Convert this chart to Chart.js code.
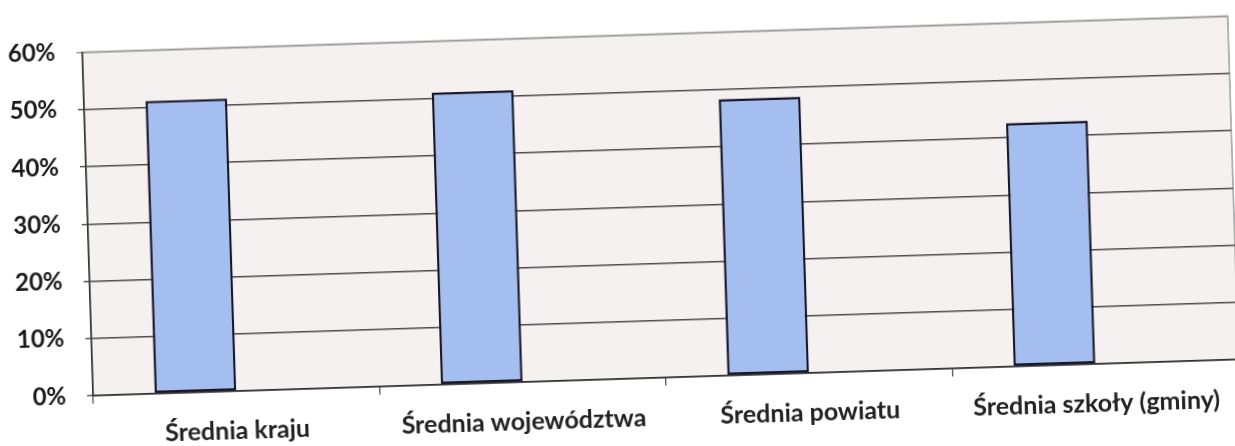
<!DOCTYPE html>
<html>
<head>
<meta charset="utf-8">
<script src="https://cdn.jsdelivr.net/npm/chart.js@4.4.1/dist/chart.umd.min.js"></script>
<style>
  html, body { margin: 0; padding: 0; background: #ffffff; overflow: hidden; }
  #wrap {
    position: absolute; left: 0; top: 0; width: 1235px; height: 446px;
    transform: rotate(-1.81deg); transform-origin: 617.5px 223px;
  }
  canvas { display: block; }
</style>
</head>
<body>
<div id="wrap"><canvas id="c" width="1235" height="446"></canvas></div>
<script>
const categories = ["Średnia kraju", "Średnia województwa", "Średnia powiatu", "Średnia szkoły (gminy)"];
const seriesValues = [51.1, 51.0, 48.3, 42.5];
const emptySeries = [null, null, null, null];
const yTickValues = [0, 10, 20, 30, 40, 50, 60];
const yTickLabels = ["0%", "10%", "20%", "30%", "40%", "50%", "60%"];

const plotBg = {
  id: 'plotBg',
  beforeDraw(chart) {
    const { ctx, chartArea: a } = chart;
    ctx.save();
    ctx.fillStyle = '#f4f1f0';
    ctx.fillRect(a.left, a.top, a.right - a.left, a.bottom - a.top);
    ctx.strokeStyle = '#9a9a9a';
    ctx.lineWidth = 1.5;
    ctx.strokeRect(a.left, a.top, a.right - a.left, a.bottom - a.top);
    ctx.restore();
  }
};

new Chart(document.getElementById('c'), {
  type: 'bar',
  data: {
    labels: categories,
    datasets: [
      {
        data: seriesValues,
        backgroundColor: '#a4bef0',
        borderColor: '#17172a',
        borderWidth: 2.5,
        borderSkipped: false,
        categoryPercentage: 2 / 3.5,
        barPercentage: 1
      },
      {
        data: emptySeries,
        backgroundColor: '#c0504d',
        categoryPercentage: 2 / 3.5,
        barPercentage: 1
      }
    ]
  },
  options: {
    responsive: false,
    animation: false,
    devicePixelRatio: 1,
    layout: { padding: { left: 0, right: 1, top: 33.5, bottom: 0 } },
    plugins: { legend: { display: false }, tooltip: { enabled: false } },
    scales: {
      x: {
        offset: true,
        afterFit(scale) { scale.height = 67; },
        grid: { display: true, drawOnChartArea: false, drawTicks: true, tickLength: 8, color: '#555555', lineWidth: 1.3, offset: true },
        border: { display: true, color: '#333333', width: 1.6 },
        ticks: {
          autoSkip: false, maxRotation: 0, minRotation: 0, padding: 17,
          color: '#222222',
          font: { family: 'Lato', size: 25, weight: 'bold' }
        }
      },
      y: {
        min: 0, max: 60,
        afterFit(scale) { scale.width = 88; },
        afterBuildTicks(scale) { scale.ticks = yTickValues.map(v => ({ value: v })); },
        grid: {
          drawTicks: true, tickLength: 6, lineWidth: 1.4,
          color: (c) => (c.tick && c.tick.value === 60 ? '#9a9a9a' : '#4d4d4d')
        },
        border: { display: true, color: '#333333', width: 1.6 },
        ticks: {
          padding: 21,
          color: '#1a1a1a',
          font: { family: 'Lato', size: 24, weight: 'bold' },
          callback: (v) => yTickLabels[yTickValues.indexOf(v)]
        }
      }
    }
  },
  plugins: [plotBg]
});
</script>
</body>
</html>
